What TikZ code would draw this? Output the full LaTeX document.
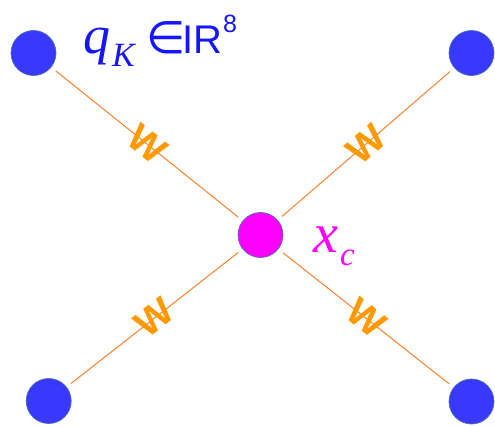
\documentclass[tikz,border=0pt]{standalone}
\usepackage{fontspec}
\setmainfont{Liberation Serif}
\newfontfamily\lsans{Liberation Sans}
\newfontfamily\dvsans{DejaVu Sans}
\definecolor{ptblue}{HTML}{3838FF}
\definecolor{edgec}{HTML}{4A6FA5}
\definecolor{ptmag}{HTML}{FF00FF}
\definecolor{linec}{HTML}{FF7F2A}
\definecolor{wc}{HTML}{FF9900}
\definecolor{qblue}{HTML}{1515FF}
\definecolor{xmag}{HTML}{FF00FF}
\begin{document}
\begin{tikzpicture}[x=1pt,y=-1pt,
  pt/.style={circle,minimum size=45pt,inner sep=0pt,draw=edgec,line width=0.7pt,fill=ptblue,outer sep=6pt},
  conn/.style={draw=linec,line width=1pt},
  wlab/.style={font=\lsans\bfseries\fontsize{38}{38}\selectfont,text=wc,sloped,inner sep=0pt,pos=0.5}]
\useasboundingbox (0,0) rectangle (495,426);
\node[pt] (tl) at (33.5,53) {};
\node[pt] (tr) at (471.5,53) {};
\node[pt] (bl) at (48.7,401) {};
\node[pt] (br) at (471.5,401.5) {};
\node[pt,fill=ptmag] (c) at (260.5,235) {};
\draw[conn] (tl) -- node[wlab] (w1) {\scalebox{1.05}[1]{W}} (c);
\draw[conn] (c) -- node[wlab] (w2) {\scalebox{1.05}[1]{W}} (tr);
\draw[conn] (bl) -- node[wlab] (w3) {\scalebox{1.05}[1]{W}} (c);
\draw[conn] (c) -- node[wlab] (w4) {\scalebox{1.05}[1]{W}} (br);
\node[anchor=base west,text=qblue,inner sep=0pt] (qlab) at (83,53)
  {\makebox[29pt][l]{\fontsize{54}{54}\selectfont\itshape q}%
   \makebox[34pt][l]{\raisebox{-13pt}{\fontsize{34}{34}\selectfont\itshape K}}%
   \makebox[36pt][l]{\dvsans\fontsize{45}{45}\selectfont ∈}%
   {\lsans\fontsize{40}{40}\selectfont IR\hspace{1pt}\raisebox{21pt}{\fontsize{25}{25}\selectfont 8}}};
\node[anchor=base west,text=xmag,inner sep=0pt] (xlab) at (313,252.7)
  {{\fontsize{56}{56}\selectfont\itshape x}\hspace{2pt}\raisebox{-13pt}{\fontsize{33}{33}\selectfont\itshape c}};
\end{tikzpicture}
\end{document}
